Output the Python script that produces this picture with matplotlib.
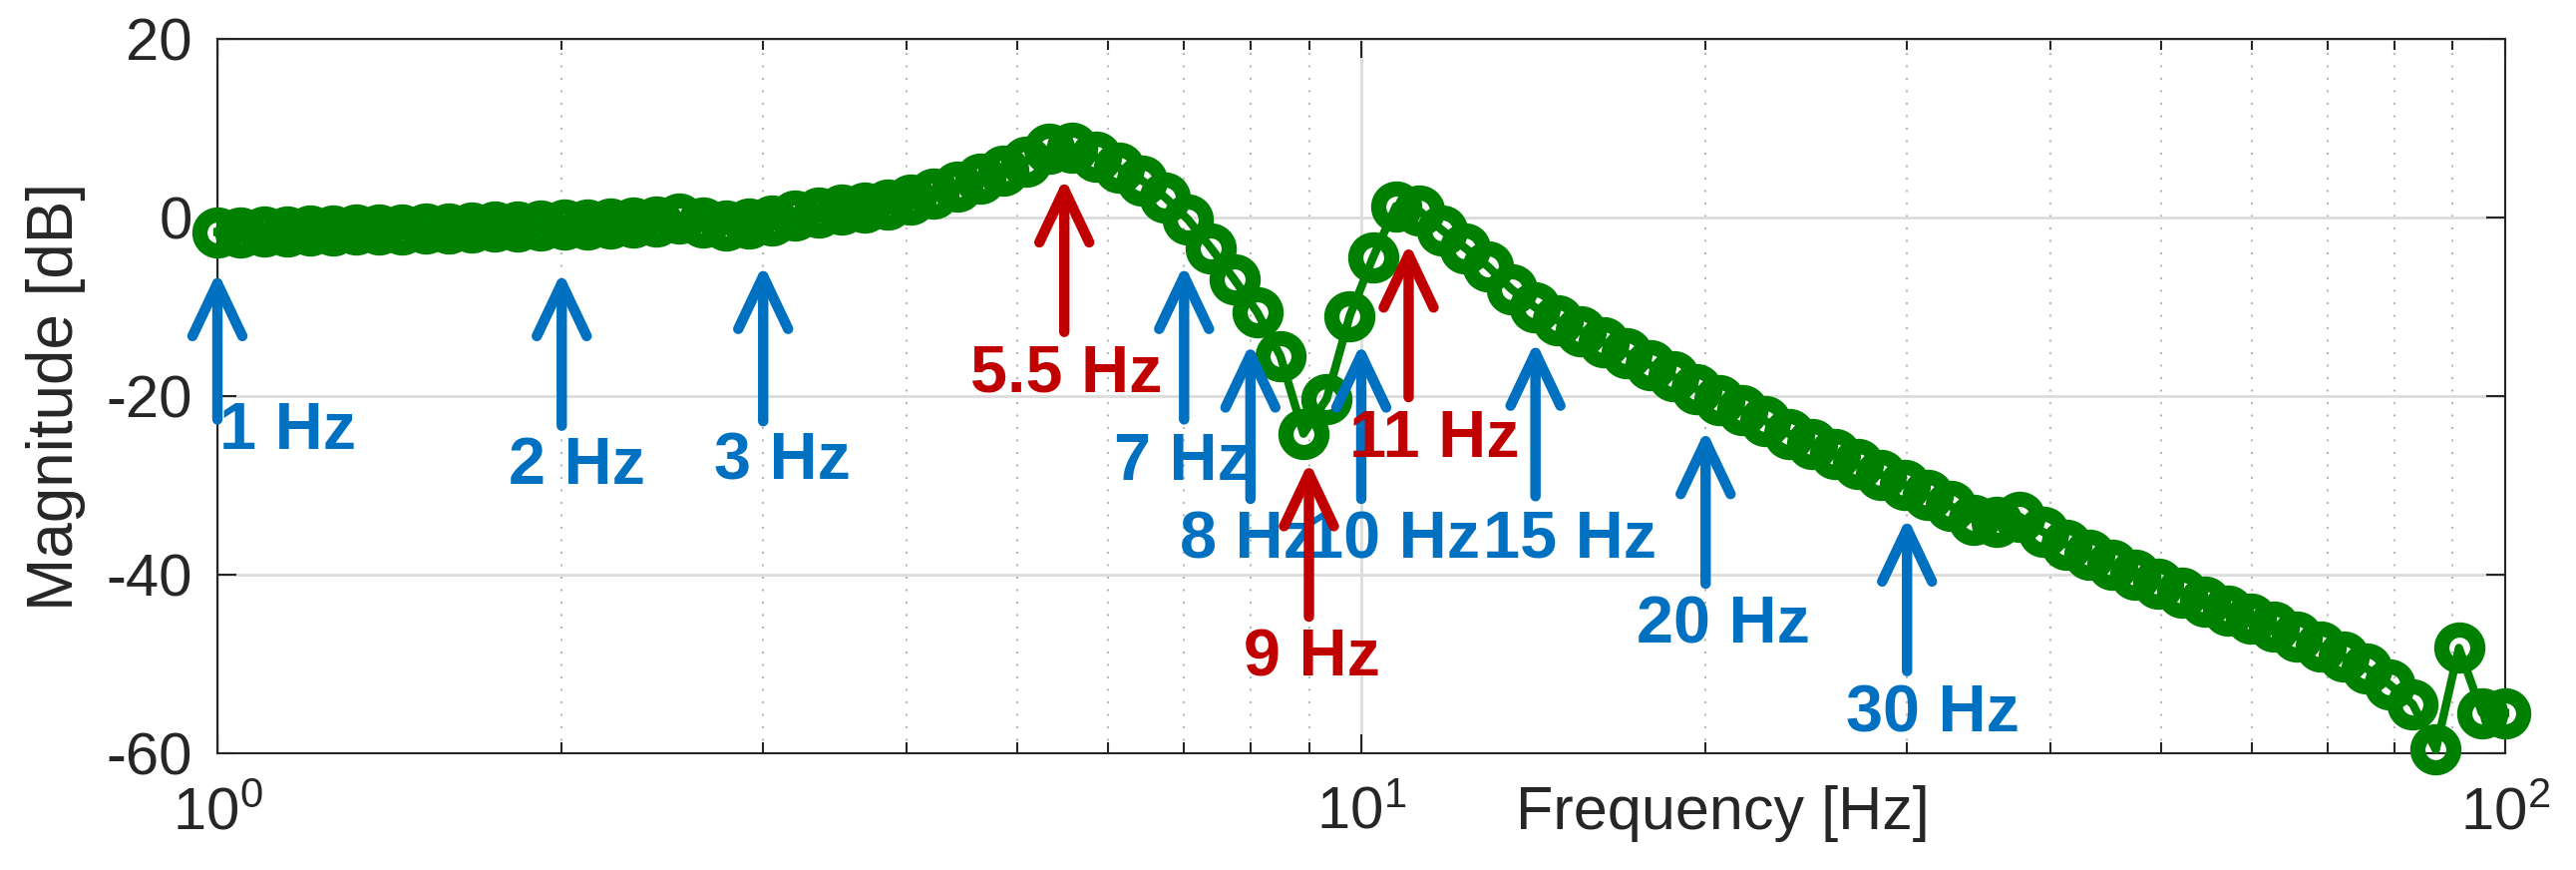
import matplotlib
matplotlib.use("Agg")
import matplotlib.pyplot as plt

plt.rcParams['font.family'] = ['Liberation Sans', 'DejaVu Sans']
plt.rcParams['mathtext.fontset'] = 'custom'
plt.rcParams['mathtext.rm'] = 'Liberation Sans'
plt.rcParams['mathtext.it'] = 'Liberation Sans'
plt.rcParams['mathtext.bf'] = 'Liberation Sans:bold'
plt.rcParams['axes.unicode_minus'] = False

freq_hz = [1.000, 1.048, 1.098, 1.150, 1.205, 1.263, 1.322, 1.385, 1.451, 1.520,
           1.593, 1.668, 1.748, 1.831, 1.918, 2.009, 2.105, 2.205, 2.310, 2.420,
           2.535, 2.656, 2.783, 2.915, 3.054, 3.199, 3.352, 3.511, 3.678, 3.854,
           4.037, 4.229, 4.431, 4.642, 4.863, 5.094, 5.337, 5.591, 5.857, 6.136,
           6.428, 6.734, 7.055, 7.391, 7.743, 8.111, 8.498, 8.902, 9.326, 9.770,
           10.235, 10.723, 11.233, 11.768, 12.328, 12.915, 13.530, 14.175, 14.850, 15.557,
           16.298, 17.074, 17.886, 18.738, 19.630, 20.565, 21.544, 22.570, 23.645, 24.771,
           25.950, 27.186, 28.480, 29.836, 31.257, 32.745, 34.305, 35.938, 37.649, 39.442,
           41.320, 43.288, 45.349, 47.508, 49.770, 52.140, 54.623, 57.224, 59.948, 62.803,
           65.793, 68.926, 72.208, 75.646, 79.248, 83.022, 86.975, 91.116, 95.455, 100.000]

magnitude_db = [-1.6, -1.6, -1.5, -1.5, -1.4, -1.4, -1.3, -1.3, -1.3, -1.2,
                -1.2, -1.1, -1.0, -1.0, -0.9, -0.8, -0.7, -0.6, -0.5, -0.4,
                -0.1, -0.5, -0.9, -0.6, -0.3, 0.2, 0.6, 0.9, 1.1, 1.5,
                2.0, 2.7, 3.5, 4.4, 5.3, 6.3, 7.7, 7.8, 6.8, 5.6,
                4.2, 2.3, -0.2, -3.4, -6.9, -10.6, -15.5, -24.2, -20.3, -11.0,
                -4.5, 1.3, 0.8, -1.4, -3.4, -5.5, -8.0, -10.0, -11.5, -12.7,
                -14.0, -15.2, -16.5, -17.8, -19.2, -20.4, -21.6, -22.8, -24.2, -25.4,
                -26.5, -27.6, -28.8, -29.9, -31.1, -32.3, -33.8, -34.1, -33.5, -35.2,
                -36.6, -37.8, -38.9, -40.0, -41.0, -42.0, -43.0, -44.0, -44.9, -45.8,
                -46.9, -48.0, -49.2, -50.5, -52.3, -54.5, -59.6, -48.2, -55.5, -55.5]

# annotations
ann_labels = ['1 Hz', '2 Hz', '3 Hz', '5.5 Hz', '7 Hz', '8 Hz', '9 Hz',
              '10 Hz', '11 Hz', '15 Hz', '20 Hz', '30 Hz']
ann_freq = [1.0, 2.0, 3.0, 5.5, 7.0, 8.0, 9.0, 10.0, 11.0, 14.2, 20.0, 30.0]
ann_tip_db = [-6.0, -6.0, -5.2, 4.5, -5.2, -14.0, -27.3, -14.0, -2.8, -13.8, -23.7, -33.5]
ann_tail_db = [-22.6, -23.3, -22.8, -12.8, -22.6, -31.5, -44.7, -31.5, -20.1, -31.2, -41.0, -50.8]
ann_text_freq = [1.151, 2.062, 3.118, 5.517, 6.98, 7.96, 9.045, 10.66, 11.58, 15.2, 20.74, 31.56]
ann_text_db = [-25.9, -29.8, -29.3, -19.5, -29.4, -38.2, -51.3, -38.2, -26.8, -38.0, -47.7, -57.6]
ann_is_red = [False, False, False, True, False, False, True, False, True, False, False, False]

BLUE = '#0070C0'
RED = '#C00000'
GREEN = '#008000'
DARK = '#262626'

fig = plt.figure(figsize=(25.83, 8.72), dpi=100)
ax = fig.add_axes([0.0844, 0.1342, 0.8881, 0.8207])

ax.semilogx(freq_hz, magnitude_db, '-o', color=GREEN, lw=6, ms=26,
            mew=11, mfc='none', mec=GREEN, clip_on=False, zorder=3)

ax.set_xlim(1, 100)
ax.set_ylim(-60, 20)
ax.set_yticks([-60, -40, -20, 0, 20])

ax.grid(True, which='major', color='#dcdcdc', lw=2, ls='-', zorder=0)
ax.grid(True, which='minor', axis='x', color='#b8b8b8', lw=1.5, ls=(0, (1, 5)), zorder=0)
ax.set_axisbelow(True)

ax.tick_params(which='both', direction='in', top=True, right=True, colors=DARK,
               labelcolor=DARK)
ax.tick_params(which='major', length=14, width=1.5, labelsize=43)
ax.tick_params(which='minor', length=8, width=1.5)
ax.tick_params(axis='x', which='major', pad=24)
ax.tick_params(axis='y', which='major', pad=18)
for sp in ax.spines.values():
    sp.set_color(DARK)
    sp.set_linewidth(1.5)

ax.set_xlabel('Frequency [Hz]', fontsize=44, color=DARK)
ax.xaxis.set_label_coords(0.658, -0.045)
ax.set_ylabel('Magnitude [dB]', fontsize=46, color=DARK)
ax.yaxis.set_label_coords(-0.0575, 0.5)

# blue ones first, red ones on top
order = [i for i in range(len(ann_labels)) if not ann_is_red[i]] + \
        [i for i in range(len(ann_labels)) if ann_is_red[i]]
for i in order:
    c = RED if ann_is_red[i] else BLUE
    ax.annotate('', xy=(ann_freq[i], ann_tip_db[i]), xytext=(ann_freq[i], ann_tail_db[i]),
                arrowprops=dict(arrowstyle='->,head_length=38,head_width=18',
                                mutation_scale=1, lw=7.5, color=c, shrinkA=0, shrinkB=0,
                                capstyle='round', joinstyle='round'),
                zorder=5)
    ax.text(ann_text_freq[i], ann_text_db[i], ann_labels[i], color=c, fontsize=48,
            fontweight='bold', family='Liberation Sans',
            ha='center', va='baseline', zorder=5)

fig.savefig('out.png', dpi=100)
